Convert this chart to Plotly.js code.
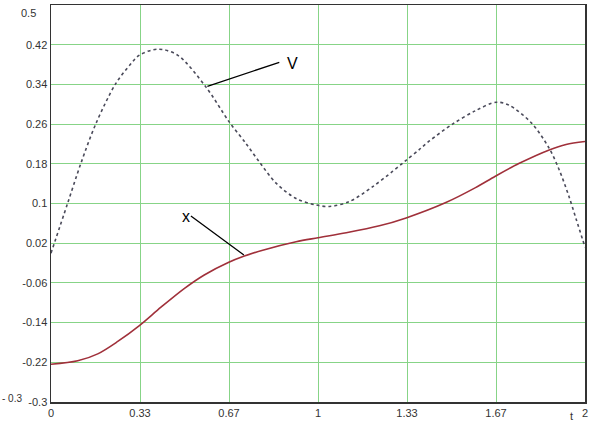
<!DOCTYPE html>
<html>
<head>
<meta charset="utf-8">
<script src="https://cdn.plot.ly/plotly-3.0.1.min.js"></script>
<style>html,body{margin:0;padding:0;background:#fff;}#plot{width:591px;height:429px;}</style>
</head>
<body>
<div id="plot"></div>
<script>
// V series (dotted)
var tV = [0, 0.062, 0.112, 0.169, 0.243, 0.30, 0.331, 0.40, 0.474, 0.58, 0.668, 0.73, 0.78, 0.843, 0.918, 0.993, 1.043, 1.118, 1.205, 1.28, 1.33, 1.38, 1.417, 1.504, 1.59, 1.667, 1.716, 1.80, 1.866, 1.904, 1.94, 1.966, 2.0];
var vValues = [0.0, 0.100, 0.181, 0.262, 0.342, 0.382, 0.399, 0.411, 0.399, 0.335, 0.264, 0.221, 0.184, 0.141, 0.110, 0.097, 0.094, 0.104, 0.134, 0.165, 0.187, 0.209, 0.226, 0.260, 0.287, 0.304, 0.298, 0.262, 0.211, 0.167, 0.114, 0.070, 0.012];
// x series (solid red)
var tX = [0, 0.10, 0.175, 0.25, 0.331, 0.412, 0.5, 0.574, 0.664, 0.724, 0.793, 0.918, 1.0, 1.106, 1.23, 1.33, 1.479, 1.59, 1.664, 1.754, 1.866, 1.929, 2.0];
var xValues = [-0.224, -0.217, -0.203, -0.178, -0.146, -0.109, -0.071, -0.044, -0.019, -0.006, 0.006, 0.023, 0.031, 0.041, 0.055, 0.071, 0.102, 0.132, 0.155, 0.181, 0.208, 0.219, 0.225];

var xTickVals = [0, 1/3, 2/3, 1, 4/3, 5/3, 2];
var xTickText = ['0', '0.33', '0.67', '1', '1.33', '1.67', '2'];
var yTickVals = [-0.3, -0.22, -0.14, -0.06, 0.02, 0.1, 0.18, 0.26, 0.34, 0.42];
var yTickText = ['-0.3', '-0.22', '-0.14', '-0.06', '0.02', '0.1', '0.18', '0.26', '0.34', '0.42'];

var tickFont = {family: 'Liberation Sans, Arial, sans-serif', size: 11, color: '#333'};
var gridColor = 'rgb(135,212,135)';

var traces = [
  {x: tV, y: vValues, mode: 'lines', line: {color: '#4a4a5a', width: 1.6, dash: 'dot', shape: 'spline', smoothing: 0.9}, hoverinfo: 'skip'},
  {x: tX, y: xValues, mode: 'lines', line: {color: '#a0303a', width: 1.6, shape: 'spline', smoothing: 0.9}, hoverinfo: 'skip'}
];

var layout = {
  width: 591, height: 429,
  margin: {l: 51, r: 6, t: 5, b: 27},
  paper_bgcolor: '#fff', plot_bgcolor: '#fff',
  showlegend: false,
  xaxis: {
    range: [0, 2], tickvals: xTickVals, ticktext: xTickText, ticks: '',
    showgrid: true, gridcolor: gridColor, gridwidth: 1,
    showline: true, linecolor: '#333', linewidth: 1.5, mirror: true,
    zeroline: false, tickfont: tickFont, fixedrange: true
  },
  yaxis: {
    range: [-0.3, 0.5], tickvals: yTickVals, ticktext: yTickText, ticks: '',
    showgrid: true, gridcolor: gridColor, gridwidth: 1,
    showline: true, linecolor: '#333', linewidth: 1.5, mirror: true,
    zeroline: false, tickfont: tickFont, fixedrange: true
  },
  annotations: [
    {x: 0.855, y: 0.3845, ax: 0.58, ay: 0.335, xref: 'x', yref: 'y', axref: 'x', ayref: 'y', showarrow: true, arrowhead: 0, arrowwidth: 1.3, arrowcolor: '#000', text: ''},
    {x: 0.903, y: 0.3825, xref: 'x', yref: 'y', text: 'V', showarrow: false, font: {family: 'Liberation Sans, Arial, sans-serif', size: 16, color: '#000'}},
    {x: 0.524, y: 0.0746, ax: 0.728, ay: -0.006, xref: 'x', yref: 'y', axref: 'x', ayref: 'y', showarrow: true, arrowhead: 0, arrowwidth: 1.3, arrowcolor: '#000', text: ''},
    {x: 0.506, y: 0.073, xref: 'x', yref: 'y', text: 'x', showarrow: false, font: {family: 'Liberation Sans, Arial, sans-serif', size: 16, color: '#000'}},
    {x: 0, y: 0.5, xref: 'paper', yref: 'y', xshift: -32, yshift: -8, text: '0.5', showarrow: false, font: tickFont},
    {x: 0, y: -0.3, xref: 'paper', yref: 'y', xshift: -51, xanchor: 'left', yshift: 4, text: '- 0.3', showarrow: false, font: {family: 'Liberation Sans, Arial, sans-serif', size: 10, color: '#333'}},
    {x: 1, y: 0, xref: 'paper', yref: 'paper', xshift: -10, yshift: -22, text: 't', showarrow: false, font: tickFont}
  ]
};

Plotly.newPlot('plot', traces, layout, {staticPlot: true, displayModeBar: false});
</script>
</body>
</html>
